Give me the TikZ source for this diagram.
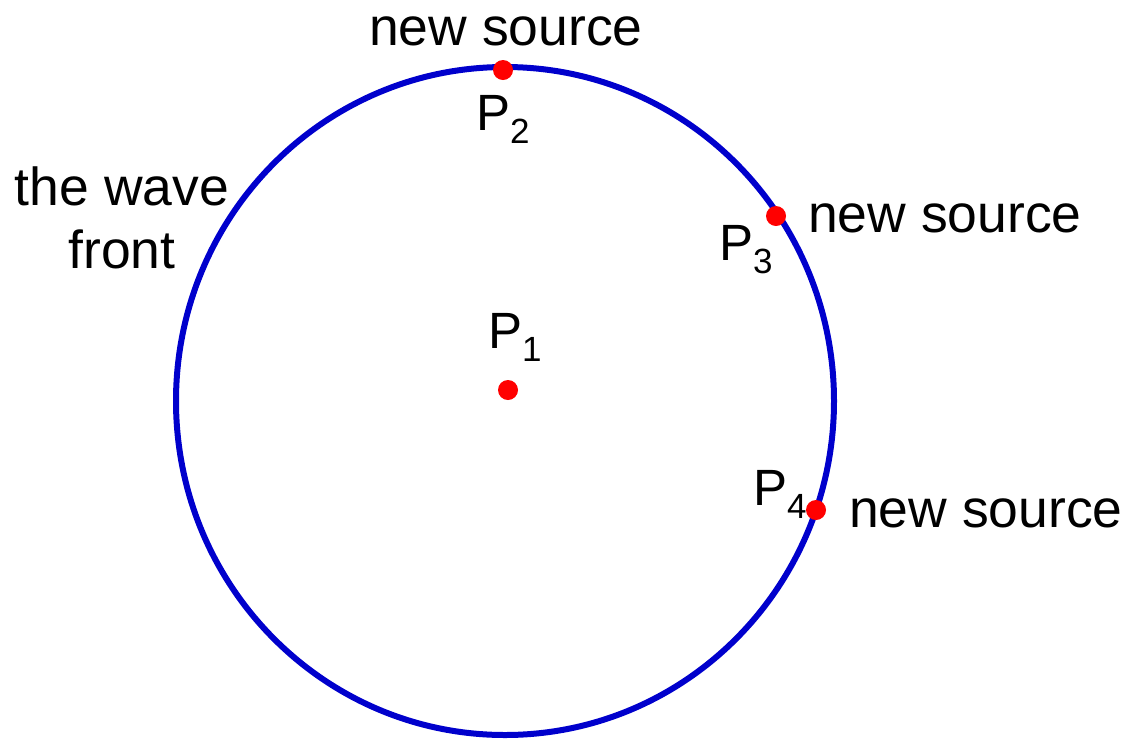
\documentclass[tikz,border=0pt]{standalone}
\usepackage{fontspec}
\setmainfont{Liberation Sans}
\tikzset{
  lbl/.style={inner sep=0pt, anchor=base west, font=\fontsize{51}{60}\selectfont},
  txt/.style={lbl, font=\fontsize{53.5}{60}\selectfont},
  dot/.style={circle, fill=red, draw=none, minimum size=20pt, inner sep=0pt},
  front/.style={draw={rgb,255:red,0;green,0;blue,204}, line width=6pt}
}
\newcommand{\sbs}[1]{\raisebox{-13pt}{\fontsize{35}{40}\selectfont #1}}
\begin{document}
\begin{tikzpicture}[x=1pt,y=-1pt]
\useasboundingbox (0,0) rectangle (1127,740);
\draw[front] (505,401) ellipse [x radius=329, y radius=334];
\node[dot] (p1) at (508,390) {};
\node[dot] (p2) at (503,70) {};
\node[dot] (p3) at (776,216) {};
\node[dot] (p4) at (816,510) {};
\node[txt] (t2) at (369,45) {new source};
\node[txt] (t3) at (808,232) {new source};
\node[txt] (t4) at (849,527) {new source};
\node[txt, anchor=base] (w1) at (122,205) {the wave};
\node[txt, anchor=base] (w2) at (122,268) {front};
\node[lbl] (l1) at (488,348) {P\sbs{1}};
\node[lbl] (l2) at (476,130) {P\sbs{2}};
\node[lbl] (l3) at (719,260) {P\sbs{3}};
\node[lbl] (l4) at (753,505) {P\sbs{4}};
\end{tikzpicture}
\end{document}
